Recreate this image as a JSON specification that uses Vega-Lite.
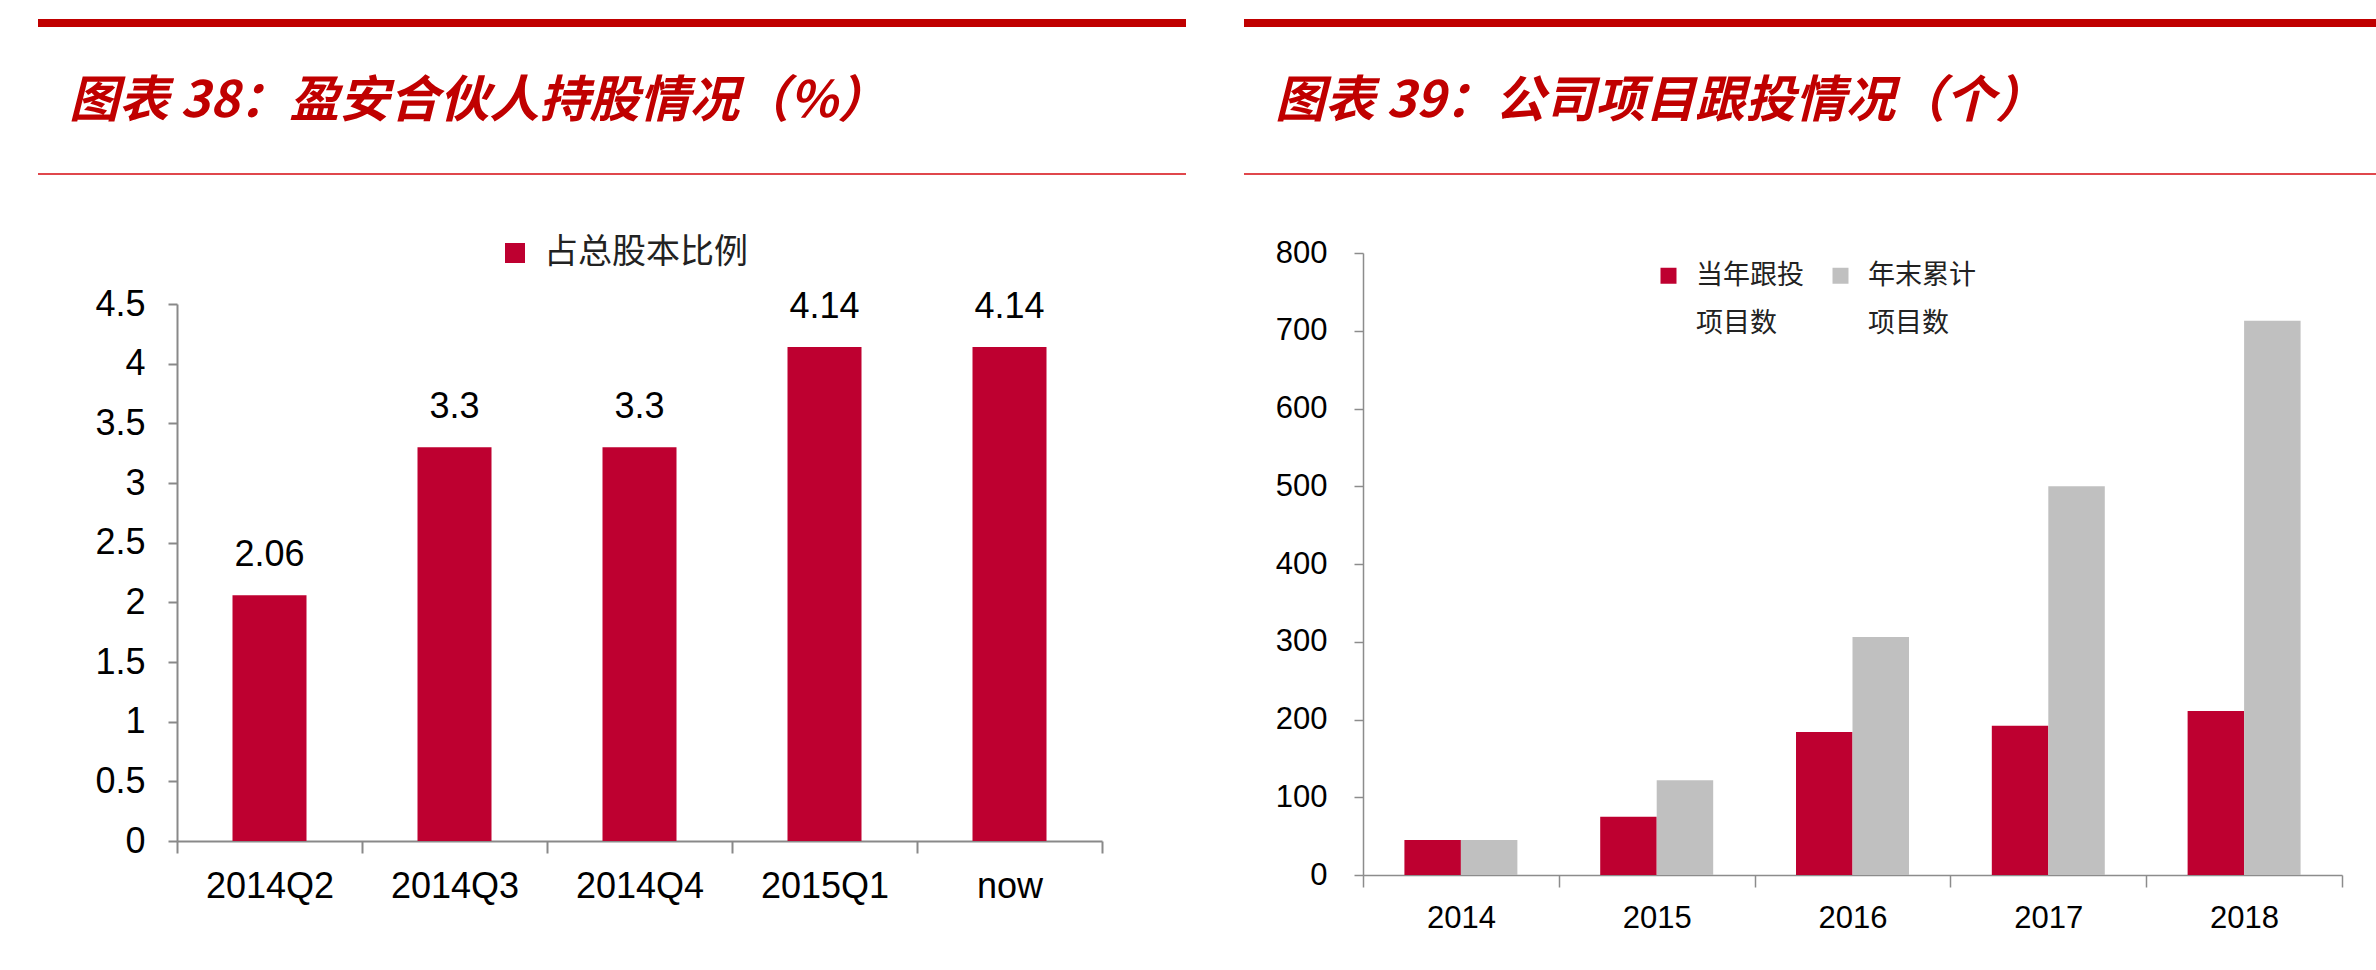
{
  "$schema": "https://vega.github.io/schema/vega-lite/v6.json",
  "padding": {"left": 34, "top": 19, "right": 0, "bottom": 0},
  "background": "white",
  "config": {
    "view": {"stroke": null},
    "font": "Liberation Sans",
    "axis": {"grid": false, "title": null, "labelColor": "#000000", "labelFont": "Liberation Sans"},
    "style": {"guide-label": {"lineHeight": 48}}
  },
  "resolve": {"scale": {"color": "independent"}, "legend": {"color": "independent"}},
  "spacing": 49,
  "hconcat": [
    {
      "spacing": 61,
      "resolve": {"scale": {"color": "independent"}, "legend": {"color": "independent"}},
      "vconcat": [
        {
          "width": 1009,
          "height": 151,
          "data": {"values": [{"title": "图表 38：盈安合伙人持股情况（%）"}]},
          "encoding": {
            "x": {"datum": -0.13776, "type": "quantitative", "scale": {"domain": [0, 1]}, "axis": null}
          },
          "layer": [
            {
              "mark": {"type": "rule", "color": "#C00000", "strokeWidth": 8},
              "encoding": {
                "x2": {"datum": 1},
                "y": {"datum": 1, "type": "quantitative", "scale": {"domain": [0, 1]}, "axis": null}
              }
            },
            {
              "mark": {"type": "rule", "color": "#E0474C", "strokeWidth": 2},
              "encoding": {
                "x2": {"datum": 1},
                "y": {"datum": 0, "type": "quantitative", "scale": {"domain": [0, 1]}, "axis": null}
              }
            },
            {
              "mark": {"type": "text", "align": "left", "baseline": "middle", "dx": 31, "font": "Noto Sans CJK SC", "fontSize": 50, "fontStyle": "italic", "fontWeight": "bold", "color": "#C00000"},
              "encoding": {
                "y": {"datum": 0.48, "type": "quantitative", "scale": {"domain": [0, 1]}, "axis": null},
                "text": {"field": "title"}
              }
            }
          ]
        },
        {
          "width": 925,
          "height": 537,
          "data": {"values": [
            {"period": "2014Q2", "value": 2.06, "series": "占总股本比例"},
            {"period": "2014Q3", "value": 3.3, "series": "占总股本比例"},
            {"period": "2014Q4", "value": 3.3, "series": "占总股本比例"},
            {"period": "2015Q1", "value": 4.14, "series": "占总股本比例"},
            {"period": "now", "value": 4.14, "series": "占总股本比例"}
          ]},
          "encoding": {
            "y": {
              "field": "value", "type": "quantitative",
              "scale": {"domain": [0, 4.5]},
              "axis": {"values": [0, 0.5, 1, 1.5, 2, 2.5, 3, 3.5, 4, 4.5], "format": "~g", "labelFontSize": 36, "labelPadding": 23, "tickSize": 9, "tickColor": "#898989", "tickWidth": 2, "domainColor": "#898989", "domainWidth": 2, "minExtent": 143}
            }
          },
          "resolve": {"scale": {"x": "independent"}, "axis": {"x": "independent"}},
          "layer": [
            {
              "mark": {"type": "bar"},
              "encoding": {
                "x": {"field": "period", "type": "nominal", "sort": null, "scale": {"paddingInner": 0.6, "paddingOuter": 0.3}, "axis": null},
                "color": {
                  "field": "series", "type": "nominal",
                  "scale": {"range": ["#BE0030"]},
                  "legend": {"orient": "none", "legendX": 321, "legendY": -68, "title": null, "padding": 0, "symbolType": "square", "symbolSize": 400, "symbolStrokeWidth": 0, "labelFont": "Noto Sans CJK SC", "labelFontSize": 34, "labelLimit": 500, "labelOffset": 12, "labelColor": "#222222"}
                }
              }
            },
            {
              "mark": {"type": "text", "baseline": "alphabetic", "dy": -29, "fontSize": 36, "color": "#000000"},
              "encoding": {
                "x": {
                  "field": "period", "type": "nominal", "sort": null,
                  "scale": {"paddingInner": 0, "paddingOuter": 0},
                  "axis": {"labelAngle": 0, "labelFontSize": 36, "labelPadding": 16, "tickBand": "extent", "tickSize": 12, "tickColor": "#898989", "tickWidth": 2, "domainColor": "#898989", "domainWidth": 2}
                },
                "text": {"field": "value", "type": "quantitative", "format": ".2~f"}
              }
            }
          ]
        }
      ]
    },
    {
      "spacing": 62,
      "resolve": {"scale": {"color": "independent"}, "legend": {"color": "independent"}},
      "vconcat": [
        {
          "width": 1014,
          "height": 151,
          "data": {"values": [{"title": "图表 39：公司项目跟投情况（个）"}]},
          "encoding": {
            "x": {"datum": -0.11736, "type": "quantitative", "scale": {"domain": [0, 1]}, "axis": null}
          },
          "layer": [
            {
              "mark": {"type": "rule", "color": "#C00000", "strokeWidth": 8},
              "encoding": {
                "x2": {"datum": 1},
                "y": {"datum": 1, "type": "quantitative", "scale": {"domain": [0, 1]}, "axis": null}
              }
            },
            {
              "mark": {"type": "rule", "color": "#E0474C", "strokeWidth": 2},
              "encoding": {
                "x2": {"datum": 1},
                "y": {"datum": 0, "type": "quantitative", "scale": {"domain": [0, 1]}, "axis": null}
              }
            },
            {
              "mark": {"type": "text", "align": "left", "baseline": "middle", "dx": 31, "font": "Noto Sans CJK SC", "fontSize": 50, "fontStyle": "italic", "fontWeight": "bold", "color": "#C00000"},
              "encoding": {
                "y": {"datum": 0.48, "type": "quantitative", "scale": {"domain": [0, 1]}, "axis": null},
                "text": {"field": "title"}
              }
            }
          ]
        },
        {
          "width": 979,
          "height": 622,
          "data": {"values": [
            {"year": "2014", "series": "当年跟投项目数", "value": 45},
            {"year": "2014", "series": "年末累计项目数", "value": 45},
            {"year": "2015", "series": "当年跟投项目数", "value": 75},
            {"year": "2015", "series": "年末累计项目数", "value": 122},
            {"year": "2016", "series": "当年跟投项目数", "value": 184},
            {"year": "2016", "series": "年末累计项目数", "value": 306},
            {"year": "2017", "series": "当年跟投项目数", "value": 192},
            {"year": "2017", "series": "年末累计项目数", "value": 500},
            {"year": "2018", "series": "当年跟投项目数", "value": 211},
            {"year": "2018", "series": "年末累计项目数", "value": 713}
          ]},
          "encoding": {
            "y": {
              "field": "value", "type": "quantitative",
              "scale": {"domain": [0, 800]},
              "axis": {"values": [0, 100, 200, 300, 400, 500, 600, 700, 800], "format": "d", "labelFontSize": 31, "labelPadding": 27, "tickSize": 9, "tickColor": "#8C8C8C", "tickWidth": 1.5, "domainColor": "#8C8C8C", "domainWidth": 1.5, "minExtent": 123}
            }
          },
          "resolve": {"scale": {"x": "independent"}, "axis": {"x": "independent"}},
          "layer": [
            {
              "mark": {"type": "bar"},
              "encoding": {
                "x": {"field": "year", "type": "nominal", "sort": null, "scale": {"paddingInner": 0.423, "paddingOuter": 0.2115}, "axis": null},
                "xOffset": {"field": "series", "type": "nominal", "sort": ["当年跟投项目数", "年末累计项目数"], "scale": {"paddingInner": 0, "paddingOuter": 0}},
                "color": {
                  "field": "series", "type": "nominal", "sort": ["当年跟投项目数", "年末累计项目数"],
                  "scale": {"range": ["#BE0030", "#C0C0C0"]},
                  "legend": {"orient": "none", "legendX": 292, "legendY": 9, "title": null, "padding": 0, "direction": "horizontal", "columns": 2, "columnPadding": 23, "symbolType": "square", "symbolSize": 256, "symbolStrokeWidth": 0, "labelFont": "Noto Sans CJK SC", "labelFontSize": 27, "labelOffset": 14, "labelColor": "#222222", "labelExpr": "[substring(datum.label, 0, 4), substring(datum.label, 4)]"}
                }
              }
            },
            {
              "mark": {"type": "text", "opacity": 0},
              "encoding": {
                "x": {
                  "field": "year", "type": "nominal", "sort": null,
                  "scale": {"paddingInner": 0, "paddingOuter": 0},
                  "axis": {"labelAngle": 0, "labelFontSize": 31, "labelPadding": 16, "tickBand": "extent", "tickSize": 12, "tickColor": "#8C8C8C", "tickWidth": 1.5, "domainColor": "#8C8C8C", "domainWidth": 1.5}
                },
                "text": {"value": ""}
              }
            }
          ]
        }
      ]
    }
  ]
}
